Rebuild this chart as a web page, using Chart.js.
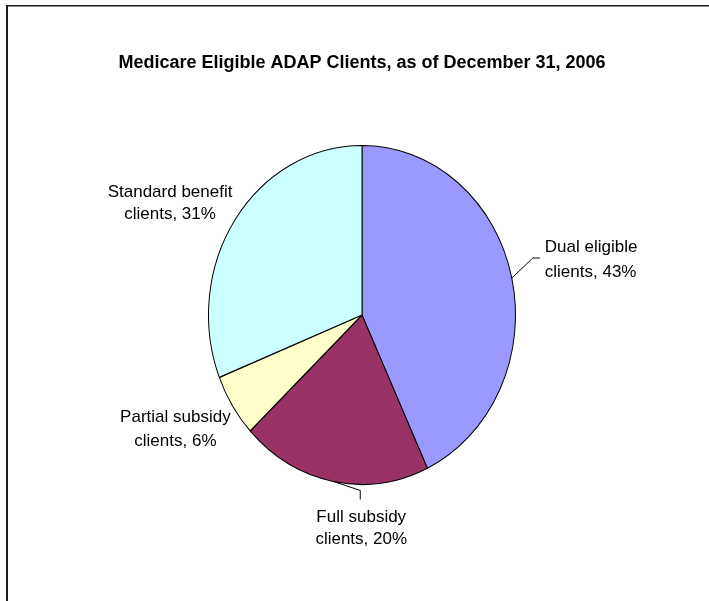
<!DOCTYPE html>
<html>
<head>
<meta charset="utf-8">
<script src="https://cdn.jsdelivr.net/npm/chart.js@4"></script>
<style>
  body { margin: 0; background: #fff; }
  #wrap { position: relative; width: 709px; height: 601px; }
</style>
</head>
<body>
<div id="wrap"><canvas id="myChart"></canvas></div>
<script>
// Data

var categories = ['Dual eligible', 'Full subsidy', 'Partial subsidy', 'Standard benefit']
var shares = [43, 20, 6, 31]
var colors = ['#9999FF', '#993366', '#FFFFCC', '#CCFFFF']

// label placement relative to the slice mid point on the rim
var labelPlace = [
    { align: 'left', dx: 33, lines: [-31, -6], leader: [[21, -20], [28, -20]] },
    { align: 'center', dx: 28, lines: [36, 58], leader: [[27, 9], [27, 18]] },
    { align: 'center', dx: -57, lines: [12, 36], leader: null },
    { align: 'center', dx: -65, lines: [-27, -5], leader: null },
]

// the original pie is slightly taller than wide
var stretch = 170 / 154

var stretchPlugin = {
    id: 'stretch',
    beforeDatasetsDraw: chart => {
        var arc = chart.getDatasetMeta(0).data[0]
        var ctx = chart.ctx
        ctx.save()
        ctx.translate(arc.x, arc.y)
        ctx.scale(1, stretch)
        ctx.translate(-arc.x, -arc.y)
    },
    afterDatasetsDraw: chart => {
        chart.ctx.restore()
    }
}

var framePlugin = {
    id: 'frame',
    beforeDraw: chart => {
        var ctx = chart.ctx
        ctx.save()
        ctx.fillStyle = '#1a1a1a'
        ctx.fillRect(6, 5, 709, 1.5)
        ctx.fillRect(6, 5, 2, 601)
        ctx.restore()
    }
}

var labelPlugin = {
    id: 'sliceLabels',
    afterDraw: chart => {
        var ctx = chart.ctx
        var meta = chart.getDatasetMeta(0)
        ctx.save()
        ctx.font = '17px Arial, sans-serif'
        ctx.fillStyle = '#000'
        ctx.textBaseline = 'middle'
        meta.data.forEach((arc, i) => {
            var mid = (arc.startAngle + arc.endAngle) / 2
            var px = arc.x + arc.outerRadius * Math.cos(mid)
            var py = arc.y + arc.outerRadius * stretch * Math.sin(mid)
            var p = labelPlace[i]
            if (p.leader) {
                ctx.beginPath()
                ctx.strokeStyle = '#000'
                ctx.lineWidth = 1
                ctx.moveTo(px, py)
                p.leader.forEach(pt => ctx.lineTo(px + pt[0], py + pt[1]))
                ctx.stroke()
            }
            ctx.textAlign = p.align
            ctx.fillText(categories[i], px + p.dx, py + p.lines[0])
            ctx.fillText('clients, ' + shares[i] + '%', px + p.dx, py + p.lines[1])
        })
        ctx.restore()
    }
}

// Drawing

var ctx = document.getElementById('myChart').getContext('2d')

var myChart = new Chart(ctx, {
    type: 'pie',
    data: {
        labels: categories,
        datasets: [{
            data: shares,
            backgroundColor: colors,
            borderColor: '#000',
            borderWidth: 1,
            clip: false,
        }]
    },
    options: {
        responsive: true,
        maintainAspectRatio: false,
        animation: false,
        layout: {
            padding: { left: 15, right: 0, top: 52, bottom: 132 }
        },
        plugins: {
            legend: { display: false },
            tooltip: { enabled: false },
            title: {
                display: true,
                text: 'Medicare Eligible ADAP Clients, as of December 31, 2006',
                color: '#000',
                font: { family: 'Arial, sans-serif', size: 18, weight: 'bold', lineHeight: 1.2 },
                padding: { top: 0, bottom: 87.4 }
            }
        }
    },
    plugins: [framePlugin, stretchPlugin, labelPlugin]
})
</script>
</body>
</html>
